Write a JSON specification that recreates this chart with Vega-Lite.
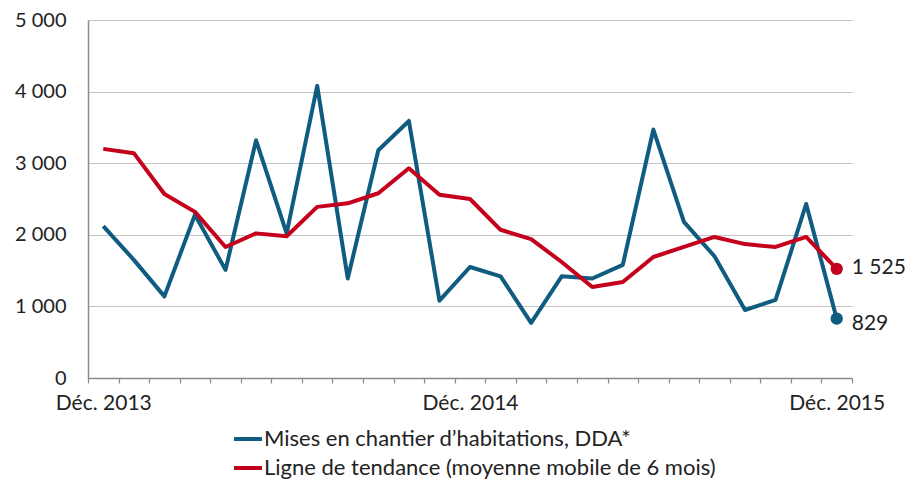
{
  "$schema": "https://vega.github.io/schema/vega-lite/v6.json",
  "width": 764,
  "height": 358,
  "autosize": {"type": "none"},
  "padding": {"left": 88, "top": 20, "right": 55, "bottom": 106},
  "background": "white",
  "config": {
    "view": {"stroke": null},
    "font": "Lato",
    "locale": {"number": {"decimal": ",", "thousands": " ", "grouping": [3], "currency": ["", " €"]}},
    "axis": {"labelFont": "Lato", "labelColor": "#222222", "labelFontSize": 20}
  },
  "data": {
    "values": [
      {"i": 0, "s": "a", "v": 2120}, {"i": 1, "s": "a", "v": 1650}, {"i": 2, "s": "a", "v": 1140},
      {"i": 3, "s": "a", "v": 2280}, {"i": 4, "s": "a", "v": 1510}, {"i": 5, "s": "a", "v": 3320},
      {"i": 6, "s": "a", "v": 2020}, {"i": 7, "s": "a", "v": 4080}, {"i": 8, "s": "a", "v": 1390},
      {"i": 9, "s": "a", "v": 3180}, {"i": 10, "s": "a", "v": 3590}, {"i": 11, "s": "a", "v": 1080},
      {"i": 12, "s": "a", "v": 1550}, {"i": 13, "s": "a", "v": 1420}, {"i": 14, "s": "a", "v": 770},
      {"i": 15, "s": "a", "v": 1420}, {"i": 16, "s": "a", "v": 1390}, {"i": 17, "s": "a", "v": 1580},
      {"i": 18, "s": "a", "v": 3470}, {"i": 19, "s": "a", "v": 2180}, {"i": 20, "s": "a", "v": 1700},
      {"i": 21, "s": "a", "v": 950}, {"i": 22, "s": "a", "v": 1090}, {"i": 23, "s": "a", "v": 2430},
      {"i": 24, "s": "a", "v": 829},
      {"i": 0, "s": "b", "v": 3200}, {"i": 1, "s": "b", "v": 3140}, {"i": 2, "s": "b", "v": 2570},
      {"i": 3, "s": "b", "v": 2320}, {"i": 4, "s": "b", "v": 1830}, {"i": 5, "s": "b", "v": 2020},
      {"i": 6, "s": "b", "v": 1980}, {"i": 7, "s": "b", "v": 2390}, {"i": 8, "s": "b", "v": 2440},
      {"i": 9, "s": "b", "v": 2580}, {"i": 10, "s": "b", "v": 2930}, {"i": 11, "s": "b", "v": 2560},
      {"i": 12, "s": "b", "v": 2500}, {"i": 13, "s": "b", "v": 2070}, {"i": 14, "s": "b", "v": 1940},
      {"i": 15, "s": "b", "v": 1620}, {"i": 16, "s": "b", "v": 1270}, {"i": 17, "s": "b", "v": 1340},
      {"i": 18, "s": "b", "v": 1690}, {"i": 19, "s": "b", "v": 1830}, {"i": 20, "s": "b", "v": 1970},
      {"i": 21, "s": "b", "v": 1870}, {"i": 22, "s": "b", "v": 1830}, {"i": 23, "s": "b", "v": 1970},
      {"i": 24, "s": "b", "v": 1525}
    ]
  },
  "encoding": {
    "x": {
      "field": "i",
      "type": "ordinal",
      "bandPosition": 0.5,
      "scale": {"type": "band", "paddingInner": 0, "paddingOuter": 0},
      "axis": {
        "title": null,
        "tickBand": "extent",
        "labelAngle": 0,
        "labelOverlap": false,
        "labelFontSize": 21,
        "labelExpr": "datum.value == 0 ? 'Déc. 2013' : datum.value == 12 ? 'Déc. 2014' : datum.value == 24 ? 'Déc. 2015' : ''",
        "domainColor": "#8a8a8a",
        "domainWidth": 1.5,
        "tickColor": "#8a8a8a",
        "tickWidth": 1.2,
        "tickSize": 5,
        "labelPadding": 9,
        "grid": false
      }
    },
    "y": {
      "field": "v",
      "type": "quantitative",
      "scale": {"domain": [0, 5000], "nice": false},
      "axis": {
        "title": null,
        "values": [0, 1000, 2000, 3000, 4000, 5000],
        "labelExpr": "datum.value == 0 ? '0' : floor(datum.value / 1000) + ' 000'",
        "ticks": false,
        "labelPadding": 22,
        "domainColor": "#8a8a8a",
        "domainWidth": 1.5,
        "gridColor": "#c4c4c4",
        "gridWidth": 1.2
      }
    },
    "color": {
      "field": "s",
      "type": "nominal",
      "scale": {"domain": ["a", "b"], "range": ["#0f5c80", "#c4001c"]},
      "legend": {
        "title": null,
        "orient": "none",
        "legendX": 144,
        "legendY": 403,
        "direction": "vertical",
        "symbolType": "stroke",
        "symbolStrokeWidth": 4,
        "symbolSize": 784,
        "labelFontSize": 22,
        "labelFont": "Lato",
        "labelColor": "#222222",
        "labelOffset": 0,
        "labelLimit": 700,
        "rowPadding": 2,
        "labelExpr": "datum.value == 'a' ? 'Mises en chantier d\u2019habitations, DDA*' : 'Ligne de tendance (moyenne mobile de 6 mois)'"
      }
    }
  },
  "layer": [
    {"mark": {"type": "line", "strokeWidth": 4, "strokeJoin": "round"}},
    {
      "transform": [{"filter": "datum.i == 24"}],
      "mark": {"type": "circle", "size": 150, "opacity": 1}
    },
    {
      "transform": [{"filter": "datum.i == 24 && datum.s == 'b'"}],
      "mark": {"type": "text", "align": "left", "baseline": "middle", "dx": 15, "dy": -1, "fontSize": 21, "font": "Lato", "color": "#222222"},
      "encoding": {
        "text": {"field": "v", "type": "quantitative", "format": ","},
        "color": {"value": "#222222"}
      }
    },
    {
      "transform": [{"filter": "datum.i == 24 && datum.s == 'a'"}],
      "mark": {"type": "text", "align": "left", "baseline": "middle", "dx": 15, "dy": 5, "fontSize": 21, "font": "Lato", "color": "#222222"},
      "encoding": {
        "text": {"field": "v", "type": "quantitative", "format": ","},
        "color": {"value": "#222222"}
      }
    }
  ]
}
